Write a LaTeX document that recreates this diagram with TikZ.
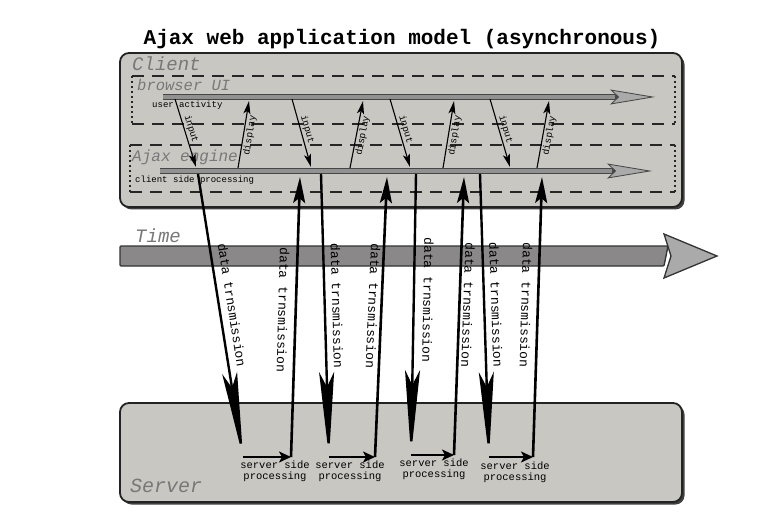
\documentclass[tikz,border=0pt]{standalone}
\usepackage{fontspec}
\setmonofont{Liberation Mono}
\usetikzlibrary{arrows.meta}
\definecolor{boxfill}{RGB}{201,199,193}
\definecolor{boxline}{RGB}{35,35,35}
\definecolor{bargray}{RGB}{145,145,145}
\definecolor{bardark}{RGB}{70,70,70}
\definecolor{headgray}{RGB}{170,170,170}
\definecolor{labgray}{RGB}{120,120,120}
\definecolor{timegray}{RGB}{138,136,136}
\newcommand{\fsz}[1]{\fontsize{#1}{#1}\selectfont}
\begin{document}
\begin{tikzpicture}[x=1pt,y=-1pt,
  panel/.style={draw=boxline, line width=1.8pt, fill=boxfill, rounded corners=9pt},
  panelshadow/.style={fill=black!75, rounded corners=9pt},
  layerlabel/.style={font=\ttfamily\itshape, text=labgray, anchor=base west, inner sep=0pt},
  smalltext/.style={font=\ttfamily\fsz{9}, anchor=base west, inner sep=0pt},
  dtlabel/.style={font=\ttfamily\fsz{13}, inner sep=0pt},
  sptext/.style={font=\ttfamily\fsz{10.5}, align=center, anchor=north, inner sep=0pt},
  dashline/.style={line width=1.8pt, draw=black!85, dash pattern=on 12pt off 8pt},
  dotline/.style={line width=1.8pt, draw=black!85, dash pattern=on 2.5pt off 2.5pt},
  barout/.style={line width=6pt, draw=bardark,
     -{Stealth[length=45pt,width=15pt,inset=8pt,line width=0.8pt,fill=headgray,color=bardark]}},
  barin/.style={line width=3.6pt, draw=bargray, shorten >=40pt},
  ioarrow/.style={line width=1.1pt, -{Stealth[length=13pt,width=7pt,inset=3pt]}},
  iolabel/.style={font=\ttfamily\fsz{9.5}, sloped, inner sep=1.5pt},
  downarrow/.style={line width=2.4pt, -{Stealth[length=85pt,width=15pt,inset=15pt]}},
  uparrow/.style={line width=2.6pt, -{Stealth[length=26pt,width=12pt,inset=5pt]}},
  harrow/.style={line width=1.8pt, -{Stealth[length=12pt,width=11pt,inset=3pt]}}
]
\useasboundingbox (0,0) rectangle (762,521);
\fill[white] (0,0) rectangle (762,521);

% title
\node[font=\ttfamily\bfseries\fsz{21}] (title) at (402,39) {Ajax web application model (asynchronous)};

% panels
\fill[panelshadow] (122.5,55.5) rectangle (684.5,209.5);
\filldraw[panel] (120,53) rectangle (682,207);
\fill[panelshadow] (122.5,405.5) rectangle (684.5,504.5);
\filldraw[panel] (120,403) rectangle (682,502);

\node[layerlabel, font=\ttfamily\itshape\fsz{19}] (client) at (132,71) {Client};
\node[layerlabel, font=\ttfamily\itshape\fsz{20}] (server) at (130,492) {Server};

% layer rectangles
\draw[dashline] (132,76) -- (675,76);
\draw[dashline] (132,124) -- (675,124);
\draw[dotline] (132,76) -- (132,124);
\draw[dotline] (675,76) -- (675,124);
\draw[dashline] (130,145) -- (675,145);
\draw[dashline] (130,192) -- (675,192);
\draw[dotline] (130,145) -- (130,192);
\draw[dotline] (675,145) -- (675,192);

\node[layerlabel, font=\ttfamily\itshape\fsz{15.5}] (bui) at (137,91) {browser UI};
\node[layerlabel, font=\ttfamily\itshape\fsz{16}] (aje) at (132,162) {Ajax engine};
\node[smalltext] (ua) at (152,108) {user activity};
\node[smalltext] (csp) at (135,183) {client side processing};

% bars
\coordinate (b1s) at (163,97);
\coordinate (b1e) at (655,97);
\coordinate (b2s) at (160,171);
\coordinate (b2e) at (652,171);
\draw[barout] (b1s) -- (b1e);
\draw[barin] (b1s) -- (b1e);
\draw[barout] (b2s) -- (b2e);
\draw[barin] (b2s) -- (b2e);

% input / display arrows
\coordinate (i1a) at (175,99);  \coordinate (i1b) at (196,167);
\coordinate (p1a) at (238,168); \coordinate (p1b) at (249,101);
\coordinate (i2a) at (292,99);  \coordinate (i2b) at (311,167);
\coordinate (p2a) at (350,168); \coordinate (p2b) at (363,101);
\coordinate (i3a) at (390,99);  \coordinate (i3b) at (410,167);
\coordinate (p3a) at (443,168); \coordinate (p3b) at (454,101);
\coordinate (i4a) at (490,99);  \coordinate (i4b) at (510,167);
\coordinate (p4a) at (537,168); \coordinate (p4b) at (549,101);
\foreach \k in {1,2,3,4}{
  \draw[ioarrow] (i\k a) -- node[iolabel, above, pos=0.47] {input} (i\k b);
  \draw[ioarrow] (p\k a) -- node[iolabel, below, pos=0.5] {display} (p\k b);
}

% time arrow
\filldraw[fill=timegray, draw=black!80, line width=1.3pt, rounded corners=1pt]
  (120,246) -- (668,246) -- (664,266) -- (120,266) -- cycle;
\filldraw[fill=headgray, draw=black!80, line width=1.3pt]
  (664,234) -- (717,256) -- (664,278) -- (671,256) -- cycle;
\node[layerlabel, font=\ttfamily\itshape\fsz{19}] (time) at (135,243) {Time};

% data transmission
\coordinate (d1s) at (198,174); \coordinate (d1e) at (243,457);
\coordinate (u1s) at (291,457); \coordinate (u1e) at (300,177);
\coordinate (d2s) at (321,174); \coordinate (d2e) at (329,457);
\coordinate (u2s) at (375,457); \coordinate (u2e) at (387,177);
\coordinate (d3s) at (416,174); \coordinate (d3e) at (411,455);
\coordinate (u3s) at (454,455); \coordinate (u3e) at (464,177);
\coordinate (d4s) at (480,174); \coordinate (d4e) at (489,457);
\coordinate (u4s) at (533,457); \coordinate (u4e) at (542,177);
\foreach \k in {1,2,3,4}{
  \draw[downarrow] (d\k s) -- (d\k e);
  \draw[harrow] (d\k e) -- (u\k s);
  \draw[uparrow] (u\k s) -- (u\k e);
}

\node[dtlabel, rotate=-81] (t1) at (232,305) {data trnsmission};
\node[dtlabel, rotate=-91.5] (t2) at (283,310) {data trnsmission};
\node[dtlabel, rotate=-88.5] (t3) at (337,306) {data trnsmission};
\node[dtlabel, rotate=-92.5] (t4) at (373,306) {data trnsmission};
\node[dtlabel, rotate=-91] (t5) at (428,300) {data trnsmission};
\node[dtlabel, rotate=-92] (t6) at (468,305) {data trnsmission};
\node[dtlabel, rotate=-88] (t7) at (496,305) {data trnsmission};
\node[dtlabel, rotate=-91.5] (t8) at (526,305) {data trnsmission};

% server side processing
\node[sptext] (sp1) at (275,461) {server side\\processing};
\node[sptext] (sp2) at (350,461) {server side\\processing};
\node[sptext] (sp3) at (434,459) {server side\\processing};
\node[sptext] (sp4) at (515,462) {server side\\processing};
\end{tikzpicture}
\end{document}
